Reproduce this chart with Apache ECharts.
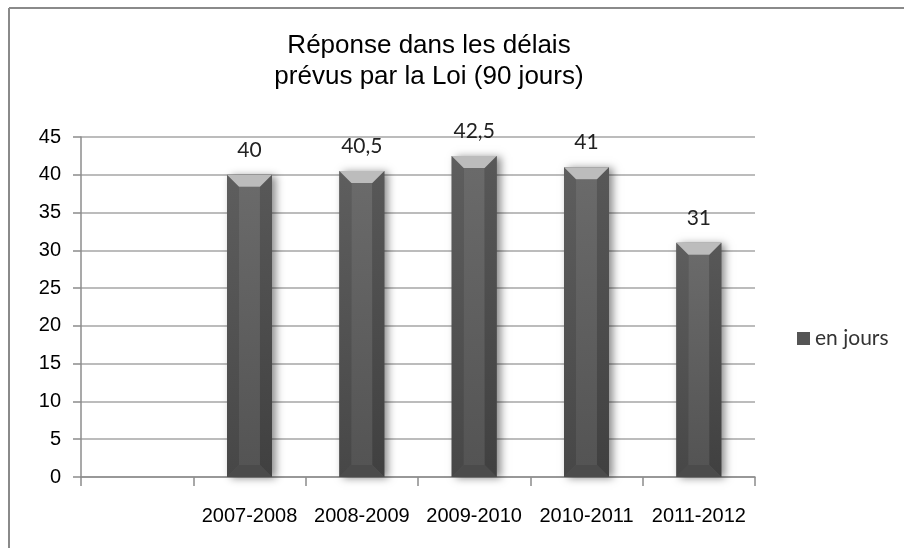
<!DOCTYPE html>
<html>
<head>
<meta charset="utf-8">
<script src="https://cdn.jsdelivr.net/npm/echarts@6/dist/echarts.min.js"></script>
<style>
html,body{margin:0;padding:0;background:#fff;}
#chart{width:904px;height:548px;}
</style>
</head>
<body>
<div id="chart"></div>
<script>
const categories = ["", "2007-2008", "2008-2009", "2009-2010", "2010-2011", "2011-2012"];
const values = [null, 40, 40.5, 42.5, 41, 31];
const yTicks = [0, 5, 10, 15, 20, 25, 30, 35, 40, 45];
const seriesName = "en jours";
const titleText = "Réponse dans les délais\nprévus par la Loi (90 jours)";

const chart = echarts.init(document.getElementById('chart'), null, {renderer: 'canvas'});

function vgrad(c1, c2) {
  return new echarts.graphic.LinearGradient(0, 0, 0, 1, [{offset: 0, color: c1}, {offset: 1, color: c2}]);
}

function renderBar(params, api) {
  const v = api.value(1);
  if (v == null || isNaN(v)) return null;
  const idx = api.value(0);
  const top = api.coord([idx, v]);
  const base = api.coord([idx, 0]);
  const w = api.size([1, 0])[0] * 0.4;
  const L = top[0] - w / 2, R = top[0] + w / 2;
  const T = top[1], B = base[1];
  const b = Math.min(12, w * 0.27, (B - T) / 2);
  const label = String(v).replace('.', ',');
  return {
    type: 'group',
    children: [
      {type: 'rect', shape: {x: L, y: T, width: w, height: B - T},
        style: {fill: '#555', shadowBlur: 8, shadowOffsetX: 4, shadowOffsetY: 1, shadowColor: 'rgba(0,0,0,0.45)'}},
      {type: 'rect', shape: {x: L + b, y: T + b, width: w - 2 * b, height: B - T - 2 * b},
        style: {fill: vgrad('#6a6a6a', '#545454')}},
      {type: 'polygon', shape: {points: [[L, T], [L + b, T + b], [L + b, B - b], [L, B]]},
        style: {fill: vgrad('#5e5e5e', '#474747')}},
      {type: 'polygon', shape: {points: [[R, T], [R - b, T + b], [R - b, B - b], [R, B]]},
        style: {fill: vgrad('#585858', '#404040')}},
      {type: 'polygon', shape: {points: [[L, T], [R, T], [R - b, T + b], [L + b, T + b]]},
        style: {fill: '#bcbcbc'}},
      {type: 'polygon', shape: {points: [[L, B], [R, B], [R - b, B - b], [L + b, B - b]]},
        style: {fill: '#4b4b4b'}},
      {type: 'text', x: top[0], y: T - 14,
        style: {text: label, fill: '#222', font: '21px Lato, "Open Sans", sans-serif', align: 'center', verticalAlign: 'bottom'}}
    ]
  };
}

const option = {
  backgroundColor: '#fff',
  animation: false,
  title: {
    text: titleText,
    left: 424,
    textAlign: 'center',
    top: 25,
    textStyle: {fontFamily: '"Liberation Sans", Arial, sans-serif', fontSize: 26, fontWeight: 'normal', color: '#000', lineHeight: 31}
  },
  legend: {
    data: [seriesName],
    left: 792,
    top: 323,
    icon: 'rect',
    itemWidth: 13,
    itemHeight: 13,
    itemGap: 6,
    textStyle: {fontFamily: 'Lato, "Open Sans", sans-serif', fontSize: 21, color: '#333'}
  },
  grid: {left: 81, right: 149, top: 137, bottom: 71, containLabel: false},
  xAxis: {
    type: 'category',
    data: categories,
    boundaryGap: true,
    axisLine: {show: true, lineStyle: {color: '#8c8c8c', width: 1.5}},
    axisTick: {show: true, interval: 0, length: 9, lineStyle: {color: '#8c8c8c', width: 1.5}},
    axisLabel: {interval: 0, margin: 29, fontFamily: '"Liberation Sans", Arial, sans-serif', fontSize: 20, color: '#000'},
    splitLine: {show: false}
  },
  yAxis: {
    type: 'value',
    min: yTicks[0],
    max: yTicks[yTicks.length - 1],
    interval: 5,
    axisLine: {show: true, lineStyle: {color: '#8c8c8c', width: 1.5}},
    axisTick: {show: true, length: 8, lineStyle: {color: '#8c8c8c', width: 1.5}},
    axisLabel: {margin: 20, fontFamily: '"Liberation Sans", Arial, sans-serif', fontSize: 20, color: '#000'},
    splitLine: {show: true, lineStyle: {color: '#a6a6a6', width: 1.5}}
  },
  series: [{
    name: seriesName,
    type: 'custom',
    renderItem: renderBar,
    itemStyle: {color: '#555'},
    encode: {x: 0, y: 1},
    data: values.map((v, i) => [i, v]),
    z: 3
  }],
  graphic: [
    {type: 'line', shape: {x1: 9, y1: 8, x2: 904, y2: 8}, style: {stroke: '#8a8a8a', lineWidth: 2}},
    {type: 'line', shape: {x1: 9, y1: 8, x2: 9, y2: 548}, style: {stroke: '#8a8a8a', lineWidth: 2}}
  ]
};
chart.setOption(option);
</script>
</body>
</html>
